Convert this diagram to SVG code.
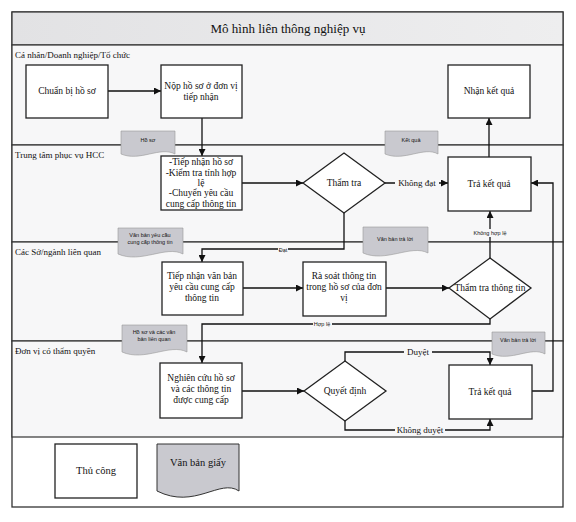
<svg xmlns="http://www.w3.org/2000/svg" width="576" height="522" viewBox="0 0 576 522">
<defs>
<linearGradient id="tg" x1="0" y1="0" x2="1" y2="0"><stop offset="0" stop-color="#e2e2e4"/><stop offset="1" stop-color="#eeeeef"/></linearGradient>
<marker id="ah" viewBox="0 0 10 10" refX="10" refY="5" markerWidth="7" markerHeight="7" markerUnits="userSpaceOnUse" orient="auto"><path d="M0,0 L10,5 L0,10 Z" fill="#111"/></marker>
</defs>
<style>
.lane{fill:#f7f7f8;stroke:#333;stroke-width:1.2}
.lbl{font-family:"Liberation Serif",serif;font-size:9px;fill:#111}
.box{fill:#fff;stroke:#222;stroke-width:1.3}
.t{font-family:"Liberation Serif",serif;font-size:9.5px;fill:#111;text-anchor:middle}
.doc{fill:#c9c9cf;stroke:#999;stroke-width:0.6}
.dt{font-family:"Liberation Sans",sans-serif;font-size:5.5px;fill:#111;text-anchor:middle}
.c{fill:none;stroke:#111;stroke-width:1.3}
.cl{font-family:"Liberation Serif",serif;font-size:9px;fill:#111;text-anchor:middle}
.sl{font-family:"Liberation Sans",sans-serif;font-size:5.5px;fill:#111;text-anchor:middle}
</style>
<rect x="0" y="0" width="576" height="522" fill="#fff"/>
<g id="frame">
<rect x="12" y="12" width="551" height="495" fill="#fff" stroke="#333" stroke-width="1.3"/>
<rect x="12" y="12" width="551" height="33" fill="url(#tg)" stroke="#333" stroke-width="1.2"/>
<text x="288" y="33" font-family="Liberation Serif, serif" font-size="13" text-anchor="middle" fill="#111">Mô hình liên thông nghiệp vụ</text>
</g>
<g id="lanes">
<rect class="lane" x="12" y="45" width="551" height="100"/>
<rect class="lane" x="12" y="145" width="551" height="97"/>
<rect class="lane" x="12" y="242" width="551" height="99"/>
<rect class="lane" x="12" y="341" width="551" height="96"/>
<text class="lbl" x="15" y="58">Cá nhân/Doanh nghiệp/Tổ chức</text>
<text class="lbl" x="15" y="158">Trung tâm phục vụ HCC</text>
<text class="lbl" x="15" y="255">Các Sở/ngành liên quan</text>
<text class="lbl" x="15" y="354">Đơn vị có thẩm quyền</text>
</g>
<g id="connectors">
<path class="c" d="M107,91 H161" marker-end="url(#ah)"/>
<path class="c" d="M202,118 V156" marker-end="url(#ah)"/>
<path class="c" d="M242,183 H303" marker-end="url(#ah)"/>
<path class="c" d="M385,183 H448" marker-end="url(#ah)"/>
<path class="c" d="M489,157 V118" marker-end="url(#ah)"/>
<path class="c" d="M344,213 V249 H202 V262" marker-end="url(#ah)"/>
<path class="c" d="M243,288 H303" marker-end="url(#ah)"/>
<path class="c" d="M386,288 H449" marker-end="url(#ah)"/>
<path class="c" d="M490,258 V211" marker-end="url(#ah)"/>
<path class="c" d="M490,319 V324 H202 V363" marker-end="url(#ah)"/>
<path class="c" d="M242,391 H304" marker-end="url(#ah)"/>
<path class="c" d="M345,361 V352 H490 V365" marker-end="url(#ah)"/>
<path class="c" d="M345,421 V430 H490 V419" marker-end="url(#ah)"/>
<path class="c" d="M532,391 H553 V183 H531" marker-end="url(#ah)"/>
<rect x="395" y="178" width="44" height="10" fill="#f7f7f8"/>
<text class="cl" x="417" y="186">Không đạt</text>
<rect x="278" y="246" width="10" height="7" fill="#f7f7f8"/>
<text class="sl" x="283" y="252">Đạt</text>
<rect x="470" y="229" width="40" height="8" fill="#f7f7f8"/>
<text class="sl" x="490" y="235">Không hợp lệ</text>
<rect x="313" y="320" width="19" height="7" fill="#f7f7f8"/>
<text class="sl" x="322" y="326">Hợp lệ</text>
<rect x="404" y="347" width="28" height="10" fill="#f7f7f8"/>
<text class="cl" x="418" y="355">Duyệt</text>
<rect x="395" y="425" width="50" height="10" fill="#f7f7f8"/>
<text class="cl" x="420" y="433">Không duyệt</text>
</g>
<g id="n_chuanbi"><rect class="box" x="26" y="65" width="82" height="53"/><text class="t" x="67" y="94">Chuẩn bị hồ sơ</text></g>
<g id="n_nop"><rect class="box" x="161" y="65" width="81" height="53"/><text class="t" x="201" y="89">Nộp hồ sơ ở đơn vị</text><text class="t" x="201" y="100">tiếp nhận</text></g>
<g id="n_nhan"><rect class="box" x="448" y="65" width="82" height="53"/><text class="t" x="489" y="94">Nhận kết quả</text></g>
<g id="n_tiepnhan"><rect class="box" x="161" y="156" width="81" height="54"/>
<text class="t" x="201" y="165">-Tiếp nhận hồ sơ</text><text class="t" x="201" y="176">-Kiểm tra tính hợp</text><text class="t" x="201" y="186">lệ</text><text class="t" x="201" y="196">-Chuyển yêu cầu</text><text class="t" x="201" y="207">cung cấp thông tin</text></g>
<g id="n_thamtra"><path class="box" d="M344,153 L385,183 L344,213 L303,183 Z"/><text class="t" x="344" y="186">Thẩm tra</text></g>
<g id="n_tra1"><rect class="box" x="448" y="157" width="83" height="54"/><text class="t" x="489" y="187">Trả kết quả</text></g>
<g id="n_tiepnhanvb"><rect class="box" x="162" y="262" width="81" height="53"/><text class="t" x="202" y="279">Tiếp nhận văn bản</text><text class="t" x="202" y="290">yêu cầu cung cấp</text><text class="t" x="202" y="301">thông tin</text></g>
<g id="n_rasoat"><rect class="box" x="303" y="262" width="83" height="54"/><text class="t" x="344" y="279">Rà soát thông tin</text><text class="t" x="344" y="290">trong hồ sơ của đơn</text><text class="t" x="344" y="301">vị</text></g>
<g id="n_thamtratt"><path class="box" d="M490,258 L531,288 L490,319 L449,288 Z"/><text class="t" x="490" y="291">Thẩm tra thông tin</text></g>
<g id="n_nghiencuu"><rect class="box" x="160" y="363" width="82" height="55"/><text class="t" x="201" y="381">Nghiên cứu hồ sơ</text><text class="t" x="201" y="392">và các thông tin</text><text class="t" x="201" y="403">được cung cấp</text></g>
<g id="n_quyetdinh"><path class="box" d="M345,361 L386,391 L345,421 L304,391 Z"/><text class="t" x="345" y="394">Quyết định</text></g>
<g id="n_tra2"><rect class="box" x="449" y="365" width="83" height="54"/><text class="t" x="490" y="395">Trả kết quả</text></g>
<g id="d_hoso"><path class="doc" d="M121,131 H175 V154 C160,146 140,162 121,154 Z"/><text class="dt" x="148" y="142">Hồ sơ</text></g>
<g id="d_ketqua"><path class="doc" d="M385,131 H438 V154 C424,146 404,162 385,154 Z"/><text class="dt" x="411" y="142">Kết quả</text></g>
<g id="d_vbyc"><path class="doc" d="M118,228 H183 V254 C166,245 141,264 118,254 Z"/><text class="dt" x="150" y="237">Văn bản yêu cầu</text><text class="dt" x="150" y="244">cung cấp thông tin</text></g>
<g id="d_vbtl1"><path class="doc" d="M363,227 H428 V253 C411,244 386,263 363,253 Z"/><text class="dt" x="395" y="241">Văn bản trả lời</text></g>
<g id="d_hosovb"><path class="doc" d="M122,325 H187 V352 C170,343 145,362 122,352 Z"/><text class="dt" x="154" y="334">Hồ sơ và các văn</text><text class="dt" x="154" y="341">bản liên quan</text></g>
<g id="d_vbtl2"><path class="doc" d="M492,332 H545 V354 C531,346 511,362 492,354 Z"/><text class="dt" x="518" y="342">Văn bản trả lời</text></g>
<g id="legend">
<rect class="box" x="55" y="444" width="82" height="54" stroke-width="1"/>
<text x="96" y="474" font-family="Liberation Serif, serif" font-size="10.5" text-anchor="middle" fill="#111">Thủ công</text>
<path d="M157,444 H239 V491 C220,478 195,510 157,491 Z" fill="#c9c9cf" stroke="#333" stroke-width="1"/>
<text x="198" y="466" font-family="Liberation Serif, serif" font-size="10.5" text-anchor="middle" fill="#111">Văn bản giấy</text>
</g>
</svg>
